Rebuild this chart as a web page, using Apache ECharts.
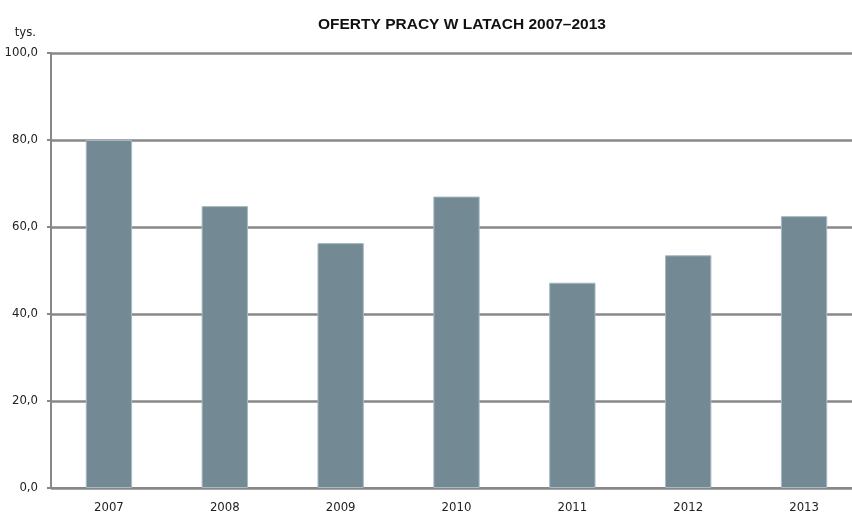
<!DOCTYPE html>
<html>
<head>
<meta charset="utf-8">
<script src="https://cdn.jsdelivr.net/npm/echarts@6/dist/echarts.min.js"></script>
<style>
  html, body { margin: 0; padding: 0; background: #fff; overflow: hidden; }
  /* the plot runs a little past the right edge of the picture */
  #chart { width: 862px; height: 515px; }
</style>
</head>
<body>
<div id="chart"></div>
<script>
// lata i liczba ofert pracy (tys.)
const years = ['2007', '2008', '2009', '2010', '2011', '2012', '2013']
const offers = [80.0, 64.8, 56.3, 67.0, 47.2, 53.5, 62.5]

const narrow = "'Liberation Sans Narrow', 'DejaVu Sans Condensed', sans-serif"

const myChart = echarts.init(document.getElementById('chart'))

const option = {
  backgroundColor: '#fff',
  animation: false,
  title: {
    text: 'OFERTY PRACY W LATACH 2007–2013',
    left: 313,
    top: 12,
    textStyle: {
      fontFamily: "'Liberation Sans', Arial, sans-serif",
      fontSize: 15.5,
      fontWeight: 'bold',
      color: '#111',
    },
  },
  grid: {
    left: 51,
    right: 0,
    top: 53,
    bottom: 27,
  },
  xAxis: {
    type: 'category',
    data: years,
    axisTick: { show: false },
    axisLine: { lineStyle: { color: '#888', width: 2 } },
    axisLabel: {
      margin: 13,
      fontFamily: narrow,
      fontSize: 13,
      color: '#222',
    },
  },
  yAxis: {
    type: 'value',
    min: 0,
    max: 100,
    interval: 20,
    name: 'tys.',
    nameLocation: 'end',
    nameGap: 14,
    nameTextStyle: {
      align: 'right',
      padding: [0, 15, 0, 0],
      fontFamily: narrow,
      fontSize: 13,
      color: '#222',
    },
    axisLine: { show: true, lineStyle: { color: '#888', width: 2 } },
    axisTick: { show: true, length: 4, lineStyle: { color: '#888', width: 2 } },
    splitLine: { lineStyle: { color: '#888', width: 2.5 } },
    axisLabel: {
      margin: 13,
      fontFamily: narrow,
      fontSize: 13,
      color: '#222',
      formatter: (v) => v.toFixed(1).replace('.', ','),
    },
  },
  series: [
    {
      type: 'bar',
      data: offers,
      barWidth: '40%',
      itemStyle: {
        color: '#738a95',
        borderColor: '#a9b9c1',
        borderWidth: 1,
      },
    },
  ],
}

myChart.setOption(option)
</script>
</body>
</html>
